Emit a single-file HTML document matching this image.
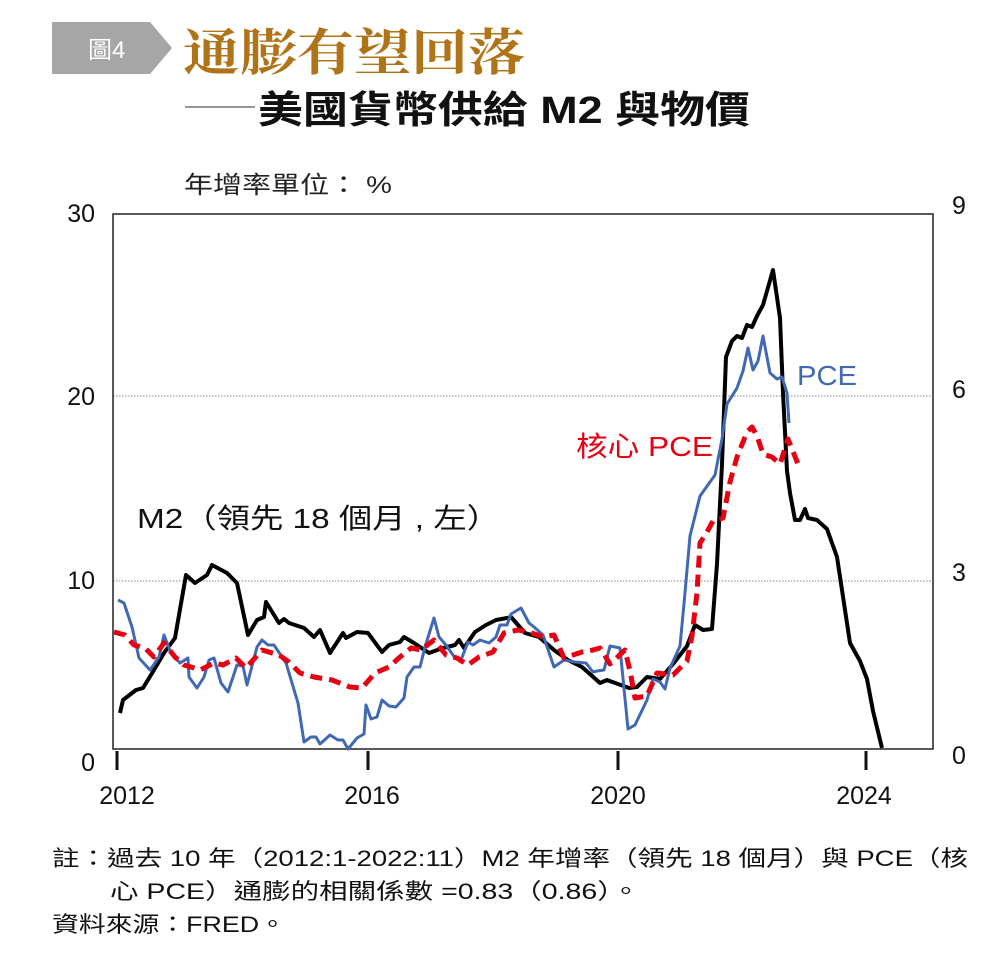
<!DOCTYPE html>
<html><head><meta charset="utf-8"><style>
html,body{margin:0;padding:0;background:#fff;}
svg{display:block;}
text{font-family:"Liberation Sans","Noto Sans CJK TC",sans-serif;}
</style></head><body>
<svg width="999" height="967" viewBox="0 0 999 967" xmlns="http://www.w3.org/2000/svg">
<polygon points="52,22 150,22 172,48 150,74 52,74" fill="#a6a6a6"/>
<text x="88" y="58" font-size="24" fill="#fff">圖4</text>
<text x="183" y="70" font-size="50" font-weight="bold" fill="#b07418" textLength="342" lengthAdjust="spacingAndGlyphs" style="font-family:'Noto Serif CJK SC','Liberation Serif',serif">通膨有望回落</text>
<line x1="185" y1="107" x2="255" y2="107" stroke="#777" stroke-width="1.5"/>
<text x="258" y="123" font-size="38" font-weight="bold" fill="#111" textLength="492" lengthAdjust="spacingAndGlyphs">美國貨幣供給 M2 與物價</text>
<text x="184" y="193" font-size="24" fill="#222" textLength="208" lengthAdjust="spacingAndGlyphs">年增率單位： %</text>
<line x1="113" y1="396" x2="932" y2="396" stroke="#888" stroke-dasharray="1.5,1.5"/>
<line x1="113" y1="581" x2="932" y2="581" stroke="#888" stroke-dasharray="1.5,1.5"/>
<rect x="113" y="214" width="820" height="535" fill="none" stroke="#222" stroke-width="1.5"/>
<g stroke="#111" stroke-width="3">
<line x1="117" y1="751" x2="117" y2="770"/><line x1="368" y1="751" x2="368" y2="770"/><line x1="618" y1="751" x2="618" y2="770"/><line x1="866" y1="751" x2="866" y2="770"/>
</g>
<g font-size="25" fill="#111" text-anchor="middle">
<text x="127" y="804">2012</text><text x="372" y="804">2016</text><text x="618" y="804">2020</text><text x="864" y="804">2024</text>
</g>
<g font-size="25" fill="#111" text-anchor="end">
<text x="95" y="222">30</text><text x="95" y="405">20</text><text x="95" y="589">10</text><text x="95" y="771">0</text>
</g>
<g font-size="25" fill="#111" text-anchor="start">
<text x="952" y="214">9</text><text x="952" y="398">6</text><text x="952" y="581">3</text><text x="952" y="764">0</text>
</g>
<polyline fill="none" stroke="#000" stroke-width="4" stroke-linejoin="round" points="120,713 123,700 136,690 143,688 154,670 164,653 175,638 186,575 195,583 207,575 212,565 227,573 237,583 248,635 257,620 264,617 266,602 279,623 284,619 289,623 304,628 314,637 320,630 330,653 343,633 346,638 357,632 368,633 382,652 389,645 400,642 404,637 414,643 429,653 443,648 455,645 459,640 464,648 475,632 486,625 496,620 507,618 511,617 518,625 525,633 539,637 554,650 568,660 582,667 600,683 607,680 629,688 637,687 647,677 660,679 673,664 687,646 695,625 703,630 712,629 717,564 722,464 726,357 732,341 737,336 742,338 747,325 752,327 757,316 763,305 773,270 780,318 783,393 787,471 790,493 795,520 800,520 805,509 808,518 817,520 827,529 837,557 850,643 860,661 867,679 873,711 882,748"/>
<polyline fill="none" stroke="#4169b3" stroke-width="3" stroke-linejoin="round" points="118,600 124,603 132,627 139,658 150,670 159,657 164,635 171,653 180,663 188,658 189,677 197,688 204,677 209,660 214,658 221,683 228,692 237,665 243,666 247,685 257,647 262,640 268,645 274,645 286,663 298,703 304,742 311,737 316,737 320,744 330,735 338,740 343,740 348,749 357,738 364,734 366,705 371,719 377,717 382,700 389,706 396,707 404,698 407,677 414,667 420,667 425,647 434,618 439,637 446,645 455,658 461,660 468,642 473,645 480,640 489,643 496,637 500,625 507,625 511,614 521,608 529,623 534,627 543,635 554,667 564,660 575,662 586,663 593,672 597,671 604,670 610,646 620,648 628,729 635,725 647,700 653,679 660,682 665,689 670,668 680,646 685,593 690,536 700,496 710,482 715,475 722,439 727,404 737,388 743,371 748,348 753,370 758,361 763,336 770,373 777,379 782,377 787,393 789,423"/>
<polyline fill="none" stroke="#e60012" stroke-width="5" stroke-dasharray="12,7" stroke-linejoin="round" points="114,632 125,635 134,645 145,648 154,657 164,643 175,657 184,665 191,667 200,670 214,663 223,665 236,658 246,668 262,650 279,655 289,662 300,673 314,677 332,680 350,687 362,688 375,673 389,667 400,657 411,648 421,650 434,640 446,655 457,658 468,665 479,657 493,652 504,633 518,630 529,632 543,637 554,635 564,658 582,652 593,650 600,648 610,664 625,650 630,671 635,698 647,696 657,673 673,675 687,661 692,636 697,593 700,543 707,532 713,521 723,518 730,482 737,457 747,432 752,427 757,436 763,454 772,457 780,464 788,439 798,464"/>
<text x="797" y="385" font-size="28" fill="#4169b3" textLength="60" lengthAdjust="spacingAndGlyphs">PCE</text>
<text x="576" y="456" font-size="28" fill="#e60012" textLength="137" lengthAdjust="spacingAndGlyphs">核心 PCE</text>
<text x="137" y="528" font-size="28" fill="#111" textLength="363" lengthAdjust="spacingAndGlyphs">M2（領先 18 個月 , 左）</text>
<g font-size="22" fill="#111">
<text x="52" y="866" textLength="916" lengthAdjust="spacingAndGlyphs">註：過去 10 年（2012:1-2022:11）M2 年增率（領先 18 個月）與 PCE（核</text>
<text x="110" y="899" textLength="530" lengthAdjust="spacingAndGlyphs">心 PCE）通膨的相關係數 =0.83（0.86）。</text>
<text x="52" y="932" textLength="234" lengthAdjust="spacingAndGlyphs">資料來源：FRED。</text>
</g>
</svg>
</body></html>
